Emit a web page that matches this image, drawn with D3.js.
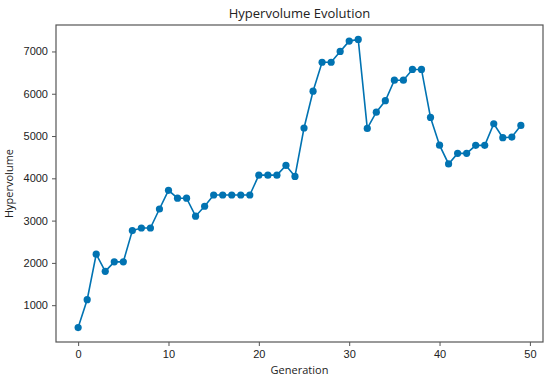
<!DOCTYPE html>
<html>
<head>
<meta charset="utf-8">
<script src="https://cdn.jsdelivr.net/npm/d3@7"></script>
<style>
  body { margin: 0; background: #fff; }
  svg { font-family: "Open Sans", "DejaVu Sans", sans-serif; }
</style>
</head>
<body>
<div id="chart"></div>
<script>
// Hypervolume per generation
const generations = d3.range(0, 50);
const hypervolume = [
  470, 1130, 2205, 1800, 2025, 2025, 2765, 2825, 2825, 3275,
  3715, 3530, 3530, 3105, 3340, 3605, 3605, 3605, 3605, 3605,
  4075, 4075, 4075, 4305, 4045, 5190, 6060, 6745, 6745, 7000,
  7245, 7285, 5180, 5565, 5835, 6320, 6320, 6575, 6575, 5440,
  4785, 4340, 4590, 4590, 4780, 4780, 5290, 4960, 4975, 5250
];
const xTicks = [0, 10, 20, 30, 40, 50];
const yTicks = [1000, 2000, 3000, 4000, 5000, 6000, 7000];

const width = 550, height = 380;
const margin = { top: 25, right: 7, bottom: 38, left: 56 };
const blue = "#0173b2";

const svg = d3.select("#chart").append("svg")
    .attr("width", width)
    .attr("height", height);

// matplotlib style 5% padding on both axes
const xPad = (d3.max(generations) - d3.min(generations)) * 0.05;
const yExt = d3.extent(hypervolume);
const yPad = (yExt[1] - yExt[0]) * 0.05;

const x = d3.scaleLinear()
    .domain([d3.min(generations) - xPad, d3.max(generations) + xPad])
    .range([margin.left, width - margin.right]);
const y = d3.scaleLinear()
    .domain([yExt[0] - yPad, yExt[1] + yPad])
    .range([height - margin.bottom, margin.top]);

const axisColor = "#555";

svg.append("g")
    .attr("transform", `translate(0,${height - margin.bottom})`)
    .call(d3.axisBottom(x).tickValues(xTicks).tickFormat(d3.format("d")).tickSize(4).tickPadding(4).tickSizeOuter(0))
    .call(g => g.select(".domain").remove())
    .call(g => g.selectAll("line").attr("stroke", axisColor))
    .call(g => g.selectAll("text").attr("font-size", 11).attr("fill", "#222"));

svg.append("g")
    .attr("transform", `translate(${margin.left},0)`)
    .call(d3.axisLeft(y).tickValues(yTicks).tickFormat(d3.format("d")).tickSize(4).tickPadding(4).tickSizeOuter(0))
    .call(g => g.select(".domain").remove())
    .call(g => g.selectAll("line").attr("stroke", axisColor))
    .call(g => g.selectAll("text").attr("font-size", 11).attr("fill", "#222"));

// frame
svg.append("rect")
    .attr("x", margin.left)
    .attr("y", margin.top)
    .attr("width", width - margin.left - margin.right)
    .attr("height", height - margin.top - margin.bottom)
    .attr("fill", "none")
    .attr("stroke", axisColor)
    .attr("stroke-width", 1.2);

const line = d3.line()
    .x((d, i) => x(generations[i]))
    .y(d => y(d));

svg.append("path")
    .datum(hypervolume)
    .attr("fill", "none")
    .attr("stroke", blue)
    .attr("stroke-width", 1.6)
    .attr("d", line);

svg.append("g").selectAll("circle")
    .data(hypervolume)
    .join("circle")
    .attr("cx", (d, i) => x(generations[i]))
    .attr("cy", d => y(d))
    .attr("r", 3.6)
    .attr("fill", blue);

svg.append("text")
    .attr("x", (margin.left + width - margin.right) / 2)
    .attr("y", 18)
    .attr("text-anchor", "middle")
    .attr("font-size", 13)
    .attr("fill", "#222")
    .text("Hypervolume Evolution");

svg.append("text")
    .attr("x", (margin.left + width - margin.right) / 2)
    .attr("y", height - 6)
    .attr("text-anchor", "middle")
    .attr("font-size", 11)
    .attr("fill", "#222")
    .text("Generation");

svg.append("text")
    .attr("transform", `translate(13,${(margin.top + height - margin.bottom) / 2}) rotate(-90)`)
    .attr("text-anchor", "middle")
    .attr("font-size", 11)
    .attr("fill", "#222")
    .text("Hypervolume");
</script>
</body>
</html>
